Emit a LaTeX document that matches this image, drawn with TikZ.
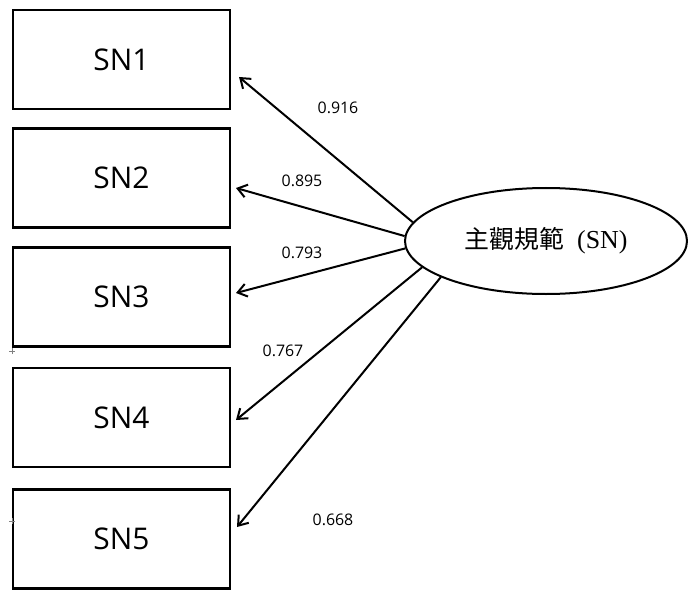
\documentclass[tikz,border=0pt]{standalone}
\usepackage{fontspec}
\setmainfont{Open Sans}
\newfontfamily\cjkfont{Noto Sans CJK TC}
\newfontfamily\serifpart{Liberation Serif}
\usetikzlibrary{arrows.meta,shapes.geometric}

\begin{document}
\begin{tikzpicture}[x=1bp,y=-1bp,
  itembox/.style={draw,line width=2.4bp,rectangle,minimum width=217bp,
    minimum height=99bp,inner sep=0pt,font=\fontsize{30}{30}\selectfont},
  latent/.style={draw,line width=2bp,ellipse,minimum width=282bp,
    minimum height=106bp,inner sep=0pt},
  loading/.style={line width=2bp,-{Straight Barb[length=9bp,width=13bp,line width=2bp]}},
  coef/.style={font=\fontsize{16}{16}\selectfont,inner sep=0pt},
  crossmark/.style={draw=gray,line width=0.8bp}]
  \useasboundingbox (0,0) rectangle (688,590);

  % observed indicators
  \node[itembox] (b1) at (121.5,59.5)  {SN1};
  \node[itembox] (b2) at (121.5,178)   {SN2};
  \node[itembox] (b3) at (121.5,297)   {SN3};
  \node[itembox] (b4) at (121.5,417.5) {SN4};
  \node[itembox] (b5) at (121.5,539)   {SN5};

  % latent construct
  \node[latent] (e) at (546,241)
    {{\cjkfont\fontsize{25}{25}\selectfont 主觀規範}\hspace{13bp}{\serifpart\fontsize{26}{26}\selectfont (SN)}};

  % arrow tips beside the boxes
  \coordinate (t1) at (239,77);
  \coordinate (t2) at (236,188);
  \coordinate (t3) at (236,293);
  \coordinate (t4) at (236,420);
  \coordinate (t5) at (237,527);

  \draw[loading] (e.172)   -- (t1);
  \draw[loading] (e.178.8) -- (t2);
  \draw[loading] (e.183.6) -- (t3);
  \draw[loading] (e.192.3) -- (t4);
  \draw[loading] (e.199.2) -- (t5);

  % loadings
  \node[coef] (l1) at (338,108) {0.916};
  \node[coef] (l2) at (302,181) {0.895};
  \node[coef] (l3) at (302,253) {0.793};
  \node[coef] (l4) at (283,351) {0.767};
  \node[coef] (l5) at (333,520) {0.668};

  % small crosshair marks at the left margin
  \coordinate (m1) at (12,351);
  \coordinate (m2) at (12,521);
  \foreach \m in {m1,m2}{
    \draw[crossmark] ([xshift=-3bp]\m) -- ([xshift=3bp]\m);
    \draw[crossmark] ([yshift=-3bp]\m) -- ([yshift=3bp]\m);
  }
\end{tikzpicture}
\end{document}
